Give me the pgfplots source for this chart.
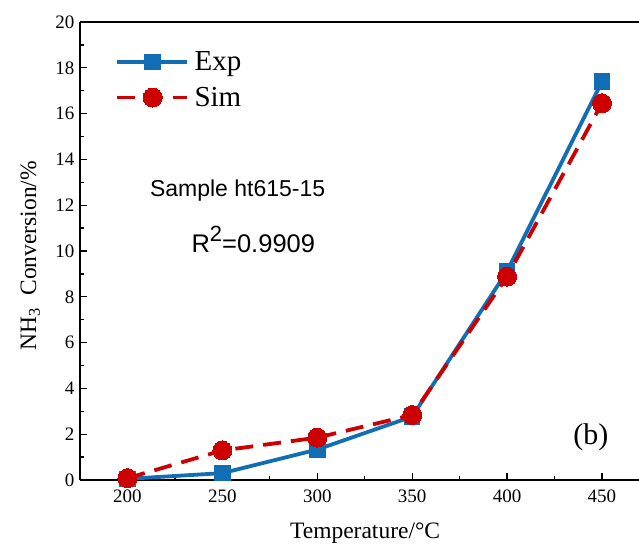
\documentclass[border=0pt]{standalone}
\usepackage{pgfplots}
\pgfplotsset{compat=1.18}
\usepackage{fontspec}
\setmainfont{Liberation Serif}
\newfontfamily\arialfont{Liberation Sans}
\definecolor{expblue}{RGB}{17,110,180}
\definecolor{simred}{RGB}{204,0,0}
\begin{document}
\begin{tikzpicture}
\begin{axis}[
  scale only axis,
  width=559pt, height=458pt,
  xmin=175, xmax=469.5, ymin=0, ymax=20,
  axis x line*=bottom, axis y line*=left,
  axis line style={line width=1.6pt, -},
  xtick={200,250,300,350,400,450},
  ytick={0,2,...,20},
  minor x tick num=1, minor y tick num=1,
  tick align=inside,
  major tick length=7pt, minor tick length=4pt,
  every tick/.style={black, line width=1.3pt},
  tick label style={font=\fontsize{19}{21}\selectfont},
  /pgf/number format/assume math mode=true,
  xticklabel style={yshift=-6pt},
  yticklabel style={xshift=-2pt},
  xlabel={Temperature/°C},
  ylabel={NH\textsubscript{3}\enspace Conversion/\%},
  label style={font=\fontsize{23.5}{26}\selectfont},
  xlabel style={at={(axis description cs:0.51,-0.1158)}, anchor=center},
  ylabel style={at={(axis description cs:-0.089,0.49)}, anchor=center},
  legend style={draw=none, fill=none, at={(axis description cs:0.06,0.94)}, anchor=north west,
    font=\fontsize{29}{32}\selectfont, row sep=13pt, column sep=5pt, inner sep=1pt,
    nodes={inner sep=1pt}},
  legend cell align=left,
  legend image code/.code={\draw[mark repeat=2,mark phase=2,#1] plot coordinates {(0pt,0pt) (36pt,0pt) (70pt,0pt)};},
]
\addplot[color=expblue, line width=3.8pt, mark=square*, mark size=7.8pt, mark options={solid, line width=0pt}]
  coordinates {(200,0.05) (250,0.3) (300,1.33) (350,2.77) (400,9.12) (450,17.39)};
\addlegendentry{Exp}
\addplot[color=simred, line width=3.8pt, dash pattern=on 18pt off 10pt, mark=*, mark size=9.5pt, mark options={solid, line width=0pt}]
  coordinates {(200,0.08) (250,1.29) (300,1.85) (350,2.84) (400,8.88) (450,16.45)};
\addlegendentry{Sim}
\draw[line width=1.6pt] (rel axis cs:0,1) -- (rel axis cs:1,1);
\node[font=\arialfont\fontsize{23}{26}\selectfont] at (axis description cs:0.282,0.632) {Sample ht615-15};
\node[font=\arialfont\fontsize{25.5}{28}\selectfont] at (axis description cs:0.31,0.525) {R\raisebox{0.42em}{\fontsize{22}{24}\selectfont 2}=0.9909};
\node[font=\fontsize{30}{33}\selectfont] at (axis description cs:0.914,0.094) {(b)};
\coordinate (bl) at (axis description cs:-0.1431,-0.1485);
\coordinate (tr) at (axis description cs:1,1.048);
\end{axis}
\pgfresetboundingbox
\path (bl) rectangle (tr);
\end{tikzpicture}
\end{document}
